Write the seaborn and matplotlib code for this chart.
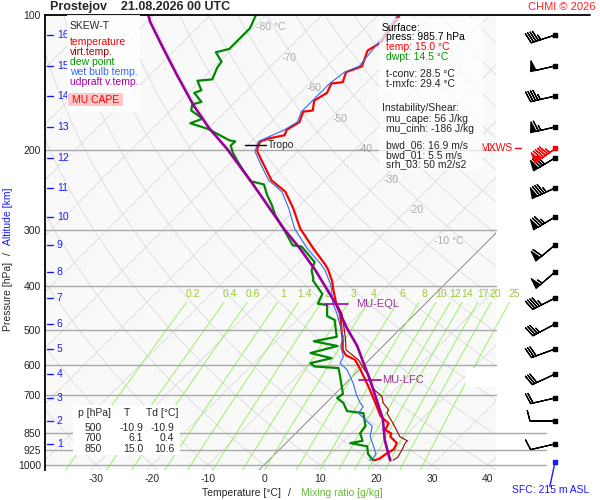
import numpy as np
import pandas as pd
import matplotlib
matplotlib.use("Agg")
import matplotlib.pyplot as plt
import seaborn as sns
from matplotlib.patches import Rectangle
from matplotlib.lines import Line2D
from matplotlib.ticker import NullLocator

# ---- sounding values (p in hPa, T in degC) ----
temp_p = [100, 115, 120, 130, 134, 141, 142, 149, 155, 163, 164, 173, 180, 185, 188, 191, 196, 201,
          215, 233, 247, 269, 298, 330, 359, 369, 391, 408, 438, 460, 502, 527, 555, 570, 584, 614,
          647, 681, 728, 779, 808, 836, 851, 865, 894, 923, 945, 968, 976]
temp_t = [-56.1, -54.6, -55.5, -53.7, -55.5, -54.3, -56.1, -55.2, -56.1, -54.6, -56.1, -54.9, -55.8,
          -55.2, -57.4, -58.4, -58.0, -57.2, -53.7, -49.5, -45.0, -40.6, -35.8, -29.9, -24.8, -23.3,
          -20.6, -18.9, -15.9, -13.5, -10.2, -8.3, -6.5, -5.0, -2.5, 0.2, 2.9, 5.5, 8.8, 12.1, 14.8,
          15.4, 17.1, 17.5, 19.8, 20.4, 19.8, 19.5, 18.9]

virt_p = [440, 460, 502, 527, 555, 584, 614, 631, 647, 681, 704, 728, 754, 767, 808, 836, 865, 884,
          894, 923, 961, 976]
virt_t = [-15.6, -13.2, -9.7, -7.8, -5.9, -1.9, 0.9, 2.55, 3.6, 6.3, 8.8, 10.2, 12.4, 12.7, 15.6,
          17.4, 19.2, 21.3, 21.3, 21.9, 22.5, 22.2]

dewp_p = [100, 107, 111, 119, 121, 127, 131, 139, 140, 147, 149, 156, 158, 163, 170, 174, 179, 190,
          191, 195, 202, 212, 227, 234, 238, 251, 264, 278, 298, 325, 327, 354, 369, 385, 389, 417,
          438, 441, 467, 476, 519, 531, 544, 564, 579, 594, 604, 609, 636, 695, 710, 728, 759, 767,
          820, 850, 884, 894, 909, 945, 976]
dewp_t = [-81.8, -80.5, -80.5, -80.5, -82.3, -79.6, -79.3, -78.1, -80.5, -78.1, -78.9, -76.0, -77.2,
          -76.3, -72.8, -74.2, -70.1, -64.1, -62.9, -63.0, -61.4, -58.8, -54.9, -53.1, -50.1, -47.7,
          -45.1, -42.7, -38.8, -34.1, -32.3, -27.2, -26.3, -24.5, -24.2, -20.1, -19.2, -17.3, -15.3,
          -13.3, -9.9, -13.2, -8.1, -11.7, -7.0, -9.9, -8.6, -4.0, -2.2, 1.4, 1.1, 3.1, 5.2, 8.5,
          11.2, 11.5, 13.3, 11.5, 15.1, 16.6, 18.6]

wetb_p = [100, 115, 130, 134, 142, 155, 164, 173, 180, 191, 201, 215, 233, 247, 269, 298, 330, 359,
          369, 399, 438, 460, 519, 544, 574, 594, 614, 659, 695, 728, 742, 767, 820, 865, 909, 945,
          968, 976]
wetb_t = [-56.5, -55.0, -54.2, -55.8, -56.4, -56.4, -56.4, -55.3, -56.2, -58.8, -57.6, -54.2, -50.0,
          -45.6, -41.4, -36.8, -31.0, -25.5, -23.9, -20.1, -16.5, -14.1, -8.75, -7.55, -5.2, -4.6,
          -2.2, 1.4, 3.75, 6.1, 7.3, 7.6, 12.4, 13.9, 16.25, 18.0, 18.3, 18.0]

parcel_p = [100, 103.5, 118.6, 135.9, 158.5, 178.9, 197.9, 232.6, 297.8, 330, 368.5, 439.7, 494,
            544, 594, 647, 717, 790, 880, 968, 976]
parcel_t = [-101.0, -99.5, -92.4, -85.2, -76.9, -69.8, -63.2, -53.4, -38.8, -32.3, -25.7, -15.8,
            -9.9, -4.6, -0.4, 3.75, 8.5, 13.0, 17.1, 21.3, 21.7]

# altitude scale (km) and the pressure at each height
alt_km = [1, 2, 3, 4, 5, 6, 7, 8, 9, 10, 11, 12, 13, 14, 15, 16]
alt_p = [898.1, 798.5, 709.8, 627.9, 552.4, 486.1, 425.6, 372.5, 324.4, 281.1, 242.3, 207.8,
         177.4, 151.4, 129.8, 110.8]

# wind at each km (direction deg, speed kt)
wind_dir = [257, 270, 257, 245, 250, 242, 243, 229, 230, 239, 245, 239, 257, 257, 257, 252]
wind_spd = [10, 10, 20, 30, 30, 35, 45, 55, 60, 75, 85, 80, 65, 45, 50, 45]
mxws_p, mxws_dir, mxws_spd = 197.5, 235, 95
sfc_p, sfc_dir = 985.7, 192

p_levels = [100, 200, 300, 400, 500, 600, 700, 850, 925, 1000]
t_ticks = [-30, -20, -10, 0, 10, 20, 30, 40]
mix_vals = [0.2, 0.4, 0.6, 1, 1.4, 2, 3, 4, 6, 8, 10, 12, 14, 17, 20, 25]
iso_labels = [-80, -70, -60, -50, -40, -30, -20, -10]

tropo_p, tropo_t = 194.5, -58.0
eql_p, eql_t = 438.7, -15.8
lfc_p, lfc_t = 647.8, 3.8
fzlv_p, wbzl_p = 626.0, 656.0

surface_lines = [("Surface:", "black", 0), ("press: 985.7 hPa", "black", 1),
                 ("temp: 15.0 \u00b0C", "#ff0000", 1), ("dwpt: 14.5 \u00b0C", "#009900", 1)]
conv_lines = ["t-conv: 28.5 \u00b0C", "t-mxfc: 29.4 \u00b0C"]
inst_lines = ["mu_cape: 56 J/kg", "mu_cinh: -186 J/kg"]
shear_lines = ["bwd_06: 16.9 m/s", "bwd_01: 5.5 m/s", "srh_03: 50 m2/s2"]
table_p = ["500", "700", "850"]
table_t = ["-10.9", "6.1", "15.0"]
table_td = ["-10.9", "0.4", "10.6"]

sns.set_style("white")
plt.rcParams["font.family"] = ["Liberation Sans", "DejaVu Sans"]
plt.rcParams["axes.unicode_minus"] = False

SKEW = 450 / 5.6
P_BOT, P_TOP = 1026.0, 100.0


def skew_x(t, p):
    return np.asarray(t, dtype=float) + SKEW * (3 - np.log10(np.asarray(p, dtype=float)))


def dewpoint_of_mix(w, p):
    e = w * p / (622.0 + w)
    g = np.log(e / 6.112)
    return 243.5 * g / (17.67 - g)


def ftext(x, y, s, **kw):
    kw.setdefault("va", "center")
    kw.setdefault("fontsize", 7.5)
    kw.setdefault("zorder", 7)
    fig.text(x / 600, 1 - y / 500, s, **kw)


def fbox(x0, y0, x1, y1, color="white", alpha=1.0):
    fig.add_artist(Rectangle((x0 / 600, 1 - y1 / 500), (x1 - x0) / 600, (y1 - y0) / 500,
                             transform=fig.transFigure, fc=color, ec="none", alpha=alpha, zorder=6))


fig = plt.figure(figsize=(6, 5), dpi=100)
ax = fig.add_axes([45 / 600, 30 / 500, 451 / 600, 455 / 500])
ax.set_facecolor("#f9f9f9")

# background: isotherms, dry adiabats, mixing ratio lines
pp = np.geomspace(P_BOT, P_TOP, 80)
for t in range(-160, 60, 10):
    ax.plot(skew_x([t, t], [P_BOT, P_TOP]), [P_BOT, P_TOP], color="#dadada", lw=0.6, zorder=1)
ax.plot(skew_x([0, 0], [P_BOT, P_TOP]), [P_BOT, P_TOP], color="#707070", lw=0.5, zorder=1.2)
for th in range(-40, 220, 10):
    tt = (th + 273.15) * (pp / 1000.0) ** 0.2857 - 273.15
    ax.plot(skew_x(tt, pp), pp, color="#dadada", lw=0.6, zorder=1)
pm = np.geomspace(P_BOT, 435, 30)
for w in mix_vals:
    ax.plot(skew_x(dewpoint_of_mix(w, pm), pm), pm, color="#99f266", lw=0.7, zorder=1.3,
            clip_on=False)
    ax.text(skew_x(dewpoint_of_mix(w, 417.0), 417.0), 417.0, f"{w:g}", color="#99cc33",
            fontsize=7.5, ha="center", va="center", zorder=2)

for k, t in enumerate(iso_labels):
    plab = 10 ** (2.0267 + 0.0678 * k)
    txt = f"{t} \u00b0C" if t in (-80, -10) else f"{t}"
    ax.text(skew_x(t, plab) + 0.3, plab, txt, color="#aaaaaa", fontsize=7.5,
            ha="left", va="center", zorder=2)

ytr = ax.get_yaxis_transform()
for p in p_levels[1:]:
    x_end = 1.111 if p >= 850 else 1.0
    ax.plot([0, x_end], [p, p], transform=ytr, color="#a9a9a9", lw=1.0, zorder=1.5, clip_on=False)

# sounding curves
curves = [
    (wetb_p, wetb_t, "#2a6df4", 0.8, 3.4),
    (virt_p, virt_t, "#990000", 0.8, 3.0),
    (temp_p, temp_t, "#ff0000", 1.6, 3.2),
    (dewp_p, dewp_t, "#008800", 1.6, 3.3),
    (parcel_p, parcel_t, "#990099", 1.9, 3.5),
]
for p, t, col, lw, z in curves:
    df = pd.DataFrame({"p": p, "x": skew_x(t, p)})
    sns.lineplot(data=df, x="x", y="p", sort=False, estimator=None, color=col, lw=lw,
                 ax=ax, zorder=z)

# level markers
ax.plot(skew_x([tropo_t - 2.5, tropo_t + 1.3], tropo_p), [tropo_p, tropo_p], color="black",
        lw=1.0, zorder=4)
ax.text(skew_x(tropo_t + 1.6, tropo_p), tropo_p, "Tropo", fontsize=7.5, va="center", zorder=4)
for lp, lt, name, gap in [(eql_p, eql_t, "MU-EQL", 3.5), (lfc_p, lfc_t, "MU-LFC", 2.2)]:
    ax.plot(skew_x([lt - 2.0, lt + 2.0], lp), [lp, lp], color="#aa00aa", lw=1.2, zorder=4)
    ax.text(skew_x(lt + gap, lp), lp, name, color="#993399", fontsize=8, va="center", zorder=4)

fbox(465, 368, 508, 387)
ax.plot([0.931, 0.945], [fzlv_p, fzlv_p], transform=ytr, color="#ff0000", lw=1, clip_on=False,
        zorder=8)
ax.plot([0.931, 0.945], [wbzl_p, wbzl_p], transform=ytr, color="#2a6df4", lw=1, clip_on=False,
        zorder=8)
ax.text(0.947, fzlv_p, "FZLV", transform=ytr, color="#ff0000", fontsize=7, va="center",
        zorder=8)
ax.text(0.947, wbzl_p, "WBZL", transform=ytr, color="#2a6df4", fontsize=7, va="center",
        zorder=8)

# altitude scale
for km, p in zip(alt_km, alt_p):
    ax.plot([0.004, 0.018], [p, p], transform=ytr, color="#1a1aff", lw=1.0, zorder=4)
    ax.text(0.026, p, str(km), transform=ytr, color="#1a1aff", fontsize=7.5, va="center",
            zorder=4)

ax.set_yscale("log")
ax.set_ylim(P_BOT, P_TOP)
ax.set_xlim((45 - 264) / 5.6, (496 - 264) / 5.6)
ax.set_yticks(p_levels)
ax.set_yticklabels([str(p) for p in p_levels])
ax.yaxis.set_minor_locator(NullLocator())
ax.set_xticks(t_ticks)
ax.set_xticklabels([str(t) for t in t_ticks])
ax.tick_params(axis="both", length=0, labelsize=7.5)
ax.tick_params(axis="y", pad=3)
ax.tick_params(axis="x", pad=3)
ax.set_xlabel("")
ax.set_ylabel("")
for side in ["top", "right", "bottom"]:
    ax.spines[side].set_visible(False)
ax.spines["left"].set_color("black")
ax.spines["left"].set_linewidth(1.3)
fig.add_artist(Line2D([45 / 600, 590 / 600], [0.97, 0.97], color="black", lw=1.3))

# wind barbs
axw = fig.add_axes([500 / 600, 30 / 500, 100 / 600, 455 / 500])
axw.set_yscale("log")
axw.set_ylim(P_BOT, P_TOP)
axw.set_xlim(0, 1)
axw.axis("off")
rad = np.deg2rad(wind_dir)
u = -np.asarray(wind_spd) * np.sin(rad)
v = -np.asarray(wind_spd) * np.cos(rad)
bx = np.full(len(alt_p), 0.55)
bar_sizes = dict(spacing=0.1, height=0.42, width=0.22)
axw.barbs(bx, alt_p, u, v, length=6, pivot="tip", color="black", linewidth=0.9,
          sizes=bar_sizes, clip_on=False, zorder=3)
axw.scatter(bx, alt_p, marker="s", s=7, color="black", zorder=4)
mr = np.deg2rad(mxws_dir)
axw.barbs([0.55], [mxws_p], [-mxws_spd * np.sin(mr)], [-mxws_spd * np.cos(mr)], length=6,
          pivot="tip", color="#ff0000", linewidth=0.9, sizes=bar_sizes, clip_on=False, zorder=5)
axw.scatter([0.55], [mxws_p], marker="s", s=7, color="#ff0000", zorder=6)
axw.plot([0.15, 0.21], [mxws_p, mxws_p], color="#ff0000", lw=1)
axw.text(0.12, mxws_p, "MXWS", color="#ff0000", fontsize=7.5, ha="right", va="center")
sr = np.deg2rad(sfc_dir)
axw.annotate("", xy=(0.55, sfc_p), xytext=(18 * np.sin(sr), 18 * np.cos(sr)),
             textcoords="offset points", annotation_clip=False,
             arrowprops=dict(arrowstyle="-", color="#1a1aff", lw=1.0, shrinkA=0, shrinkB=0))
axw.scatter([0.55], [sfc_p], marker="s", s=7, color="#1a1aff", zorder=6, clip_on=False)

# title and captions
ftext(50, 7, "Prostejov    21.08.2026 00 UTC", fontsize=9, fontweight="bold")
ftext(595, 7, "CHMI \u00a9 2026", color="#ff2222", fontsize=8, ha="right")
ftext(281, 493, "Temperature [\u00b0C]", ha="right")
ftext(289, 493, "/", ha="center")
ftext(301, 493, "Mixing ratio [g/kg]", color="#66bb33", ha="left")
ftext(8, 262, "Pressure [hPa]", rotation=90, ha="center", va="top")
ftext(8, 254, "/", rotation=90, ha="center")
ftext(8, 245, "Altitude [km]", rotation=90, ha="center", va="bottom", color="#1a1aff")
ftext(551, 490, "SFC: 215 m ASL", color="#1a1aff", ha="center")

# legend box
fbox(67, 15, 140, 112, alpha=0.9)
ftext(70, 26, "SKEW-T")
legend_items = [("temperature", "#ff0000"), ("virt.temp.", "#990000"), ("dew point", "#009900"),
                ("wet bulb temp.", "#3366ff"), ("udpraft v.temp.", "#aa00aa")]
for i, (name, col) in enumerate(legend_items):
    ftext(70, 42 + 10 * i, name, color=col)
fbox(68, 93, 123, 106, color="#ffc8c8")
ftext(96, 100, "MU CAPE", color="#ff0000", ha="center")

# surface / instability box
fbox(379, 18, 483, 170, alpha=0.7)
for i, (s, col, ind) in enumerate(surface_lines):
    ftext(382 + 4 * ind, 28 + 10.5 * i - (2 if i else 0), s, color=col)
for i, s in enumerate(conv_lines):
    ftext(386, 74 + 10 * i, s)
ftext(382, 108, "Instability/Shear:")
for i, s in enumerate(inst_lines):
    ftext(386, 119 + 10.3 * i, s)
for i, s in enumerate(shear_lines):
    ftext(386, 145 + 9.7 * i, s)

# table box
fbox(73, 405, 180, 455)
ftext(78, 413, "p [hPa]")
ftext(127, 413, "T", ha="center")
ftext(146, 413, "Td [\u00b0C]")
for i in range(3):
    ftext(102, 428 + 10.3 * i, table_p[i], ha="right")
    ftext(143, 428 + 10.3 * i, table_t[i], ha="right")
    ftext(174, 428 + 10.3 * i, table_td[i], ha="right")

fig.savefig("out.png", dpi=100)
